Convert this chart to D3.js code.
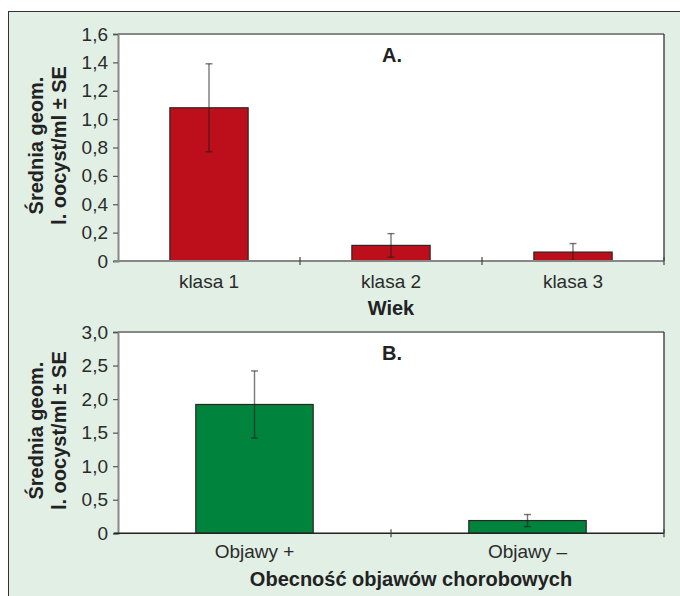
<!DOCTYPE html>
<html>
<head>
<meta charset="utf-8">
<script src="https://cdn.jsdelivr.net/npm/d3@7/dist/d3.min.js"></script>
<style>
  html, body { margin: 0; padding: 0; background: #ffffff; }
  svg { display: block; }
  text { font-family: "Liberation Sans", Arial, Helvetica, sans-serif; }
</style>
</head>
<body>
<svg id="chart" width="680" height="596"></svg>
<script>
// Panel A: geometric mean oocyst counts by age class
const ageClasses = ["klasa 1", "klasa 2", "klasa 3"];
const ageMeans = [1.08, 0.11, 0.063];
const ageSE = [0.31, 0.083, 0.06];
const ageTicks = [0, 0.2, 0.4, 0.6, 0.8, 1.0, 1.2, 1.4, 1.6];

// Panel B: geometric mean oocyst counts by presence of clinical signs
const signGroups = ["Objawy +", "Objawy –"];
const signMeans = [1.92, 0.19];
const signSE = [0.5, 0.09];
const signTicks = [0, 0.5, 1.0, 1.5, 2.0, 2.5, 3.0];

const yTitle = ["Średnia geom.", "l. oocyst/ml ± SE"];

const svg = d3.select("#chart");
const textColor = "#2b2b2b";
const fmt = v => v === 0 ? "0" : d3.format(".1f")(v).replace(".", ",");

// Outer light-green frame
svg.append("rect")
  .attr("x", 8.5).attr("y", 11.5)
  .attr("width", 680).attr("height", 600)
  .attr("fill", "#e1efe5")
  .attr("stroke", "#333").attr("stroke-width", 1);

function panel(cfg) {
  const { top, bottom, left, right, cats, means, se, ticks, color,
          letter, letterY, catLabelY, xTitle, xTitleX, xTitleY, bottomAxisColor } = cfg;

  const g = svg.append("g");

  const x = d3.scaleBand()
    .domain(cats)
    .range([left, right])
    .paddingInner(0.57)
    .paddingOuter(0.285);
  const y = d3.scaleLinear()
    .domain([ticks[0], ticks[ticks.length - 1]])
    .range([bottom, top]);

  // plot area
  g.append("rect")
    .attr("x", left).attr("y", top)
    .attr("width", right - left).attr("height", bottom - top)
    .attr("fill", "#ffffff");

  // top border (gray) and right border (dark)
  g.append("line")
    .attr("x1", left).attr("x2", right)
    .attr("y1", top).attr("y2", top)
    .attr("stroke", "#878787").attr("stroke-width", 2);
  g.append("line")
    .attr("x1", right).attr("x2", right)
    .attr("y1", top).attr("y2", bottom)
    .attr("stroke", "#222").attr("stroke-width", 1.2);

  // bars
  g.selectAll("rect.bar")
    .data(cats)
    .join("rect")
    .attr("class", "bar")
    .attr("x", d => x(d))
    .attr("y", (d, i) => y(means[i]))
    .attr("width", x.bandwidth())
    .attr("height", (d, i) => y(0) - y(means[i]))
    .attr("fill", color)
    .attr("stroke", "#2f2424")
    .attr("stroke-width", 1.2);

  // error bars
  const eb = g.selectAll("g.err")
    .data(cats)
    .join("g")
    .attr("class", "err")
    .attr("stroke", "#1e1e1e")
    .attr("stroke-opacity", 0.6)
    .attr("stroke-width", 1.4);
  const cx = d => x(d) + x.bandwidth() / 2;
  eb.append("line")
    .attr("x1", cx).attr("x2", cx)
    .attr("y1", (d, i) => y(means[i] + se[i]))
    .attr("y2", (d, i) => y(Math.max(0, means[i] - se[i])));
  eb.append("line")
    .attr("x1", d => cx(d) - 3.5).attr("x2", d => cx(d) + 3.5)
    .attr("y1", (d, i) => y(means[i] + se[i]))
    .attr("y2", (d, i) => y(means[i] + se[i]));
  eb.append("line")
    .attr("x1", d => cx(d) - 3.5).attr("x2", d => cx(d) + 3.5)
    .attr("y1", (d, i) => y(Math.max(0, means[i] - se[i])))
    .attr("y2", (d, i) => y(Math.max(0, means[i] - se[i])));

  // y axis
  const yAxis = g.append("g")
    .attr("transform", `translate(${left},0)`)
    .call(d3.axisLeft(y).tickValues(ticks).tickFormat(fmt).tickSize(5).tickPadding(5));
  yAxis.select(".domain").attr("stroke", "#878787").attr("stroke-width", 2);
  yAxis.selectAll(".tick line").attr("stroke", "#555").attr("stroke-width", 1.2);
  yAxis.selectAll(".tick text")
    .attr("fill", textColor)
    .attr("font-size", 19);

  // x axis line with crossing ticks at category boundaries
  g.append("line")
    .attr("x1", left - 4).attr("x2", right)
    .attr("y1", bottom).attr("y2", bottom)
    .attr("stroke", bottomAxisColor).attr("stroke-width", bottomAxisColor === "#878787" ? 2 : 1.4);
  const step = x.step();
  const bounds = cats.map(d => cx(d) + step / 2);
  g.selectAll("line.xtick")
    .data(bounds)
    .join("line")
    .attr("class", "xtick")
    .attr("x1", d => d).attr("x2", d => d)
    .attr("y1", bottom - 4).attr("y2", bottom + 4)
    .attr("stroke", "#444").attr("stroke-width", 1.2);

  // category labels
  g.selectAll("text.cat")
    .data(cats)
    .join("text")
    .attr("class", "cat")
    .attr("x", cx)
    .attr("y", catLabelY)
    .attr("text-anchor", "middle")
    .attr("font-size", 19)
    .attr("fill", textColor)
    .text(d => d);

  // x axis title
  g.append("text")
    .attr("x", xTitleX)
    .attr("y", xTitleY)
    .attr("text-anchor", "middle")
    .attr("font-size", 20)
    .attr("font-weight", "bold")
    .attr("fill", "#222")
    .text(xTitle);

  // panel letter
  g.append("text")
    .attr("x", 382)
    .attr("y", letterY)
    .attr("font-size", 20)
    .attr("font-weight", "bold")
    .attr("fill", "#222")
    .text(letter);

  // y axis title (two rotated lines)
  const midY = (top + bottom) / 2 - 2;
  [43, 66].forEach((bx, i) => {
    g.append("text")
      .attr("transform", `translate(${bx},${midY}) rotate(-90)`)
      .attr("text-anchor", "middle")
      .attr("font-size", 20)
      .attr("font-weight", "bold")
      .attr("fill", "#222")
      .text(yTitle[i]);
  });
}

panel({
  top: 34, bottom: 261, left: 118, right: 664,
  cats: ageClasses, means: ageMeans, se: ageSE, ticks: ageTicks,
  color: "#bd0f1b", letter: "A.", letterY: 62,
  catLabelY: 288, xTitle: "Wiek", xTitleX: 391, xTitleY: 315,
  bottomAxisColor: "#878787"
});

panel({
  top: 332, bottom: 533.3, left: 118, right: 664,
  cats: signGroups, means: signMeans, se: signSE, ticks: signTicks,
  color: "#00833d", letter: "B.", letterY: 360,
  catLabelY: 558, xTitle: "Obecność objawów chorobowych", xTitleX: 411, xTitleY: 586,
  bottomAxisColor: "#222"
});
</script>
</body>
</html>
